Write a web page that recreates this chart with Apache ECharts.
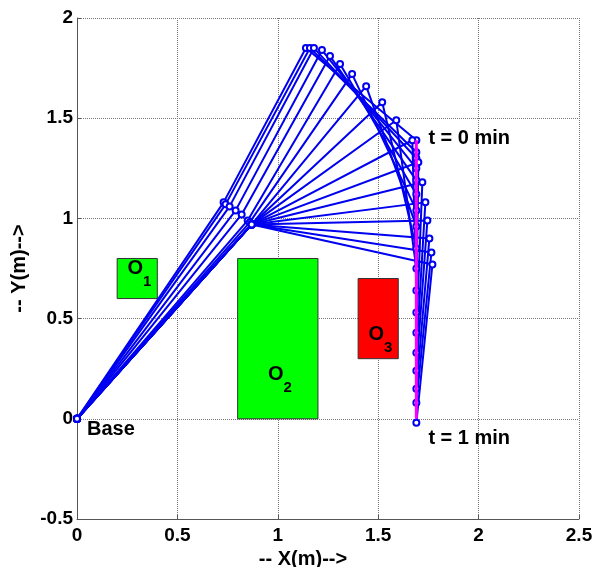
<!DOCTYPE html>
<html>
<head>
<meta charset="utf-8">
<script src="https://cdn.jsdelivr.net/npm/echarts@6/dist/echarts.min.js"></script>
<style>
  html, body { margin: 0; padding: 0; background: #fff; }
  #chart { width: 594px; height: 567px; }
</style>
</head>
<body>
<div id="chart"></div>
<script>
// arm configurations, one entry per frame (metres)
var joint1X = [0.73, 0.74, 0.76, 0.79, 0.82, 0.85, 0.86, 0.87, 0.87, 0.87, 0.87, 0.87, 0.87, 0.87, 0.87, 0.87, 0.87, 0.87];
var joint1Y = [1.08, 1.07, 1.06, 1.04, 1.02, 0.99, 0.98, 0.97, 0.97, 0.97, 0.97, 0.97, 0.97, 0.97, 0.97, 0.97, 0.97, 0.97];
var joint2X = [1.14, 1.16, 1.18, 1.22, 1.26, 1.31, 1.37, 1.44, 1.52, 1.59, 1.67, 1.70, 1.72, 1.735, 1.745, 1.755, 1.765, 1.77];
var joint2Y = [1.85, 1.85, 1.85, 1.84, 1.81, 1.77, 1.72, 1.66, 1.58, 1.49, 1.39, 1.28, 1.18, 1.08, 0.99, 0.90, 0.83, 0.77];
var endX = [1.69, 1.69, 1.69, 1.69, 1.69, 1.69, 1.69, 1.69, 1.69, 1.69, 1.69, 1.69, 1.69, 1.69, 1.69, 1.69, 1.69, 1.69];
var endY = [1.39, 1.33, 1.30, 1.25, 1.19, 1.12, 1.04, 0.96, 0.85, 0.75, 0.64, 0.53, 0.43, 0.33, 0.24, 0.15, 0.08, -0.02];

// desired end-effector path
var pathX = [1.69, 1.69];
var pathY = [1.39, 0.0];

// obstacles
var obstacleX0 = [0.2, 0.8, 1.4];
var obstacleY0 = [0.6, 0.0, 0.3];
var obstacleX1 = [0.4, 1.2, 1.6];
var obstacleY1 = [0.8, 0.8, 0.7];
var obstacleSub = ['1', '2', '3'];
var obstacleLabelX = [0.29, 0.99, 1.49];
var obstacleLabelY = [0.75, 0.22, 0.42];

// text notes
var noteText = ['t = 0 min', 't = 1 min', 'Base'];
var noteX = [1.75, 1.75, 0.05];
var noteY = [1.40, -0.10, -0.055];

var font = "'Liberation Sans', Arial, sans-serif";
var armColor = '#0000f0';
var obstacleFill = ['#00ff00', '#00ff00', '#ff0000'];

var chart = echarts.init(document.getElementById('chart'));

var series = [];

series.push({
  type: 'custom',
  z: 1,
  silent: true,
  data: obstacleX0.map(function (x, i) {
    return [x, obstacleY0[i], obstacleX1[i], obstacleY1[i], obstacleLabelX[i], obstacleLabelY[i]];
  }),
  encode: { x: [0, 2], y: [1, 3] },
  renderItem: function (params, api) {
    var i = params.dataIndex;
    var a = api.coord([api.value(0), api.value(3)]);
    var b = api.coord([api.value(2), api.value(1)]);
    var l = api.coord([api.value(4), api.value(5)]);
    return {
      type: 'group',
      children: [
        {
          type: 'rect',
          shape: { x: a[0], y: a[1], width: b[0] - a[0], height: b[1] - a[1] },
          style: { fill: obstacleFill[i], stroke: '#333', lineWidth: 1 }
        },
        {
          type: 'text', x: l[0], y: l[1],
          style: { text: 'O', fontSize: 20, fontWeight: 'bold', fontFamily: font, fill: '#000', align: 'center', verticalAlign: 'middle' }
        },
        {
          type: 'text', x: l[0] + 12, y: l[1] + 13,
          style: { text: obstacleSub[i], fontSize: 15, fontWeight: 'bold', fontFamily: font, fill: '#000', align: 'center', verticalAlign: 'middle' }
        }
      ]
    };
  }
});

for (var k = 0; k < joint1X.length; k++) {
  series.push({
    type: 'line',
    z: 2,
    silent: true,
    showSymbol: true,
    symbol: 'emptyCircle',
    symbolSize: 6,
    lineStyle: { color: armColor, width: 2 },
    itemStyle: { color: armColor, borderColor: armColor, borderWidth: 1.5 },
    data: [[0, 0], [joint1X[k], joint1Y[k]], [joint2X[k], joint2Y[k]], [endX[k], endY[k]]]
  });
}

series.push({
  type: 'line',
  z: 3,
  silent: true,
  showSymbol: false,
  lineStyle: { color: '#ff00ff', width: 3 },
  data: pathX.map(function (x, i) { return [x, pathY[i]]; })
});

series.push({
  type: 'custom',
  z: 4,
  silent: true,
  data: noteX.map(function (x, i) { return [x, noteY[i]]; }),
  renderItem: function (params, api) {
    var p = api.coord([api.value(0), api.value(1)]);
    return {
      type: 'text', x: p[0], y: p[1],
      style: { text: noteText[params.dataIndex], fontSize: 20, fontWeight: 'bold', fontFamily: font, fill: '#000', align: 'left', verticalAlign: 'middle' }
    };
  }
});

var axisCommon = {
  type: 'value',
  interval: 0.5,
  nameLocation: 'middle',
  axisLine: { show: true, onZero: false, lineStyle: { color: '#555', width: 1 } },
  axisTick: { show: true, inside: true, length: 4, lineStyle: { color: '#555' } },
  splitLine: { show: true, lineStyle: { color: '#777', type: 'dotted', width: 1 } }
};

chart.setOption({
  animation: false,
  backgroundColor: '#fff',
  grid: { left: 77, top: 18, right: 15, bottom: 48, outerBoundsMode: 'none' },
  xAxis: Object.assign({}, axisCommon, {
    min: 0, max: 2.5,
    name: '-- X(m)-->',
    nameGap: 27,
    nameTextStyle: { fontSize: 20, fontWeight: 'bold', fontFamily: font, color: '#000', padding: [0, 50, 0, 0] },
    axisLabel: { fontSize: 19, fontWeight: 'bold', fontFamily: font, color: '#000', margin: 7, showMinLabel: true, showMaxLabel: true, hideOverlap: false }
  }),
  yAxis: Object.assign({}, axisCommon, {
    min: -0.5, max: 2,
    name: '-- Y(m)-->',
    nameGap: 46,
    nameTextStyle: { fontSize: 20, fontWeight: 'bold', fontFamily: font, color: '#000' },
    axisLabel: { fontSize: 19, fontWeight: 'bold', fontFamily: font, color: '#000', margin: 4, showMinLabel: true, showMaxLabel: true, hideOverlap: false }
  }),
  series: series
});
</script>
</body>
</html>
